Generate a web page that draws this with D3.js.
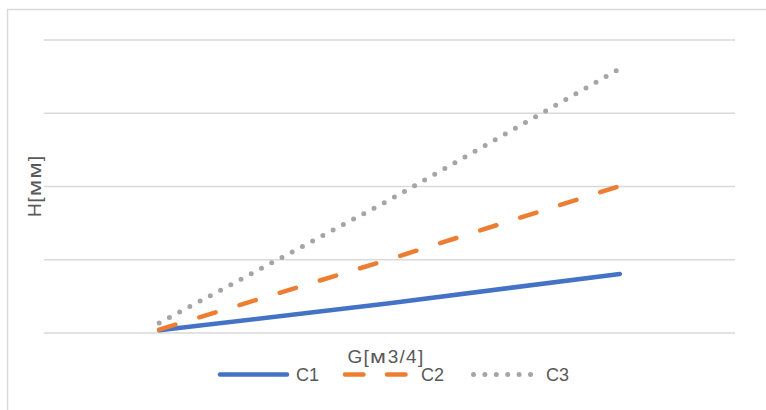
<!DOCTYPE html>
<html><head><meta charset="utf-8">
<script src="https://cdn.jsdelivr.net/npm/d3@7"></script>
<style>body{margin:0;background:#fff;}svg{display:block;font-family:"Liberation Sans",Arial,sans-serif;}</style>
</head><body>
<svg id="chart" width="766" height="410"></svg>
<script>
const categories = ["1", "2", "3"];
const seriesNames = ["C1", "C2", "C3"];
const c1Values = [0.3, 4.0, 8.0];
const c2Values = [0.4, 10.0, 20.0];
const c3Values = [1.3, 18.1, 36.0];
const yTicks = [0, 10, 20, 30, 40];
const xTitle = "G[м3/4]";
const yTitle = "H[мм]";

const seriesValues = [c1Values, c2Values, c3Values];
const colors = ["#4472C4", "#ED7D31", "#A5A5A5"];
const dashes = [null, "17,25", "0,11.6"];

const svg = d3.select("#chart");
svg.append("rect").attr("x", 7.5).attr("y", 9.5).attr("width", 770).attr("height", 410)
  .attr("fill", "#fff").attr("stroke", "#d9d9d9").attr("stroke-width", 1.5);

const x = d3.scaleBand().domain(categories).range([44, 735]);
const y = d3.scaleLinear().domain([0, 40]).range([332.5, 39.5]);

const grid = svg.append("g").attr("transform", "translate(44,0)")
  .call(d3.axisLeft(y).tickValues(yTicks).tickSize(-691).tickFormat(""));
grid.select(".domain").remove();
grid.selectAll(".tick line").attr("stroke", "#d9d9d9").attr("stroke-width", 1.5);

const line = d3.line().x((d, i) => x(categories[i]) + x.bandwidth() / 2).y(d => y(d));

seriesValues.forEach((vals, i) => {
  svg.append("path").datum(vals).attr("d", line)
    .attr("fill", "none").attr("stroke", colors[i]).attr("stroke-width", i === 2 ? 5 : 4.5)
    .attr("stroke-linecap", "round").attr("stroke-linejoin", "round")
    .attr("stroke-dasharray", dashes[i]);
});

// axis titles: wide Cyrillic glyphs as in the reference font
function addTitle(sel, str) {
  const parts = str.split(/(м+)/).filter(s => s.length);
  parts.forEach(p => {
    const t = sel.append("tspan").text(p);
    if (/^м+$/.test(p)) t.attr("textLength", 17.5 * p.length).attr("lengthAdjust", "spacingAndGlyphs");
  });
}
const xt = svg.append("text").attr("x", 386).attr("y", 362.5).attr("text-anchor", "middle")
  .attr("font-size", 19).attr("fill", "#595959").attr("letter-spacing", 1.3);
addTitle(xt, xTitle);
const yt = svg.append("text").attr("transform", "translate(41,186) rotate(-90)").attr("text-anchor", "middle")
  .attr("font-size", 19).attr("fill", "#595959").attr("letter-spacing", 0.9);
addTitle(yt, yTitle);

// legend
const legendX = [220, 345, 473.5];
const legendLen = [67, 61, 57.5];
const legendTextX = [296, 421, 546];
seriesNames.forEach((name, i) => {
  svg.append("path").attr("d", `M${legendX[i]},374.5h${legendLen[i]}`)
    .attr("stroke", colors[i]).attr("stroke-width", i === 2 ? 5 : 4.5)
    .attr("stroke-linecap", "round").attr("stroke-dasharray", i === 1 ? "18.5,23.5" : (i === 2 ? "0,11.4" : null));
  svg.append("text").attr("x", legendTextX[i]).attr("y", 381).attr("font-size", 18)
    .attr("fill", "#595959").text(name);
});
</script>
</body></html>
